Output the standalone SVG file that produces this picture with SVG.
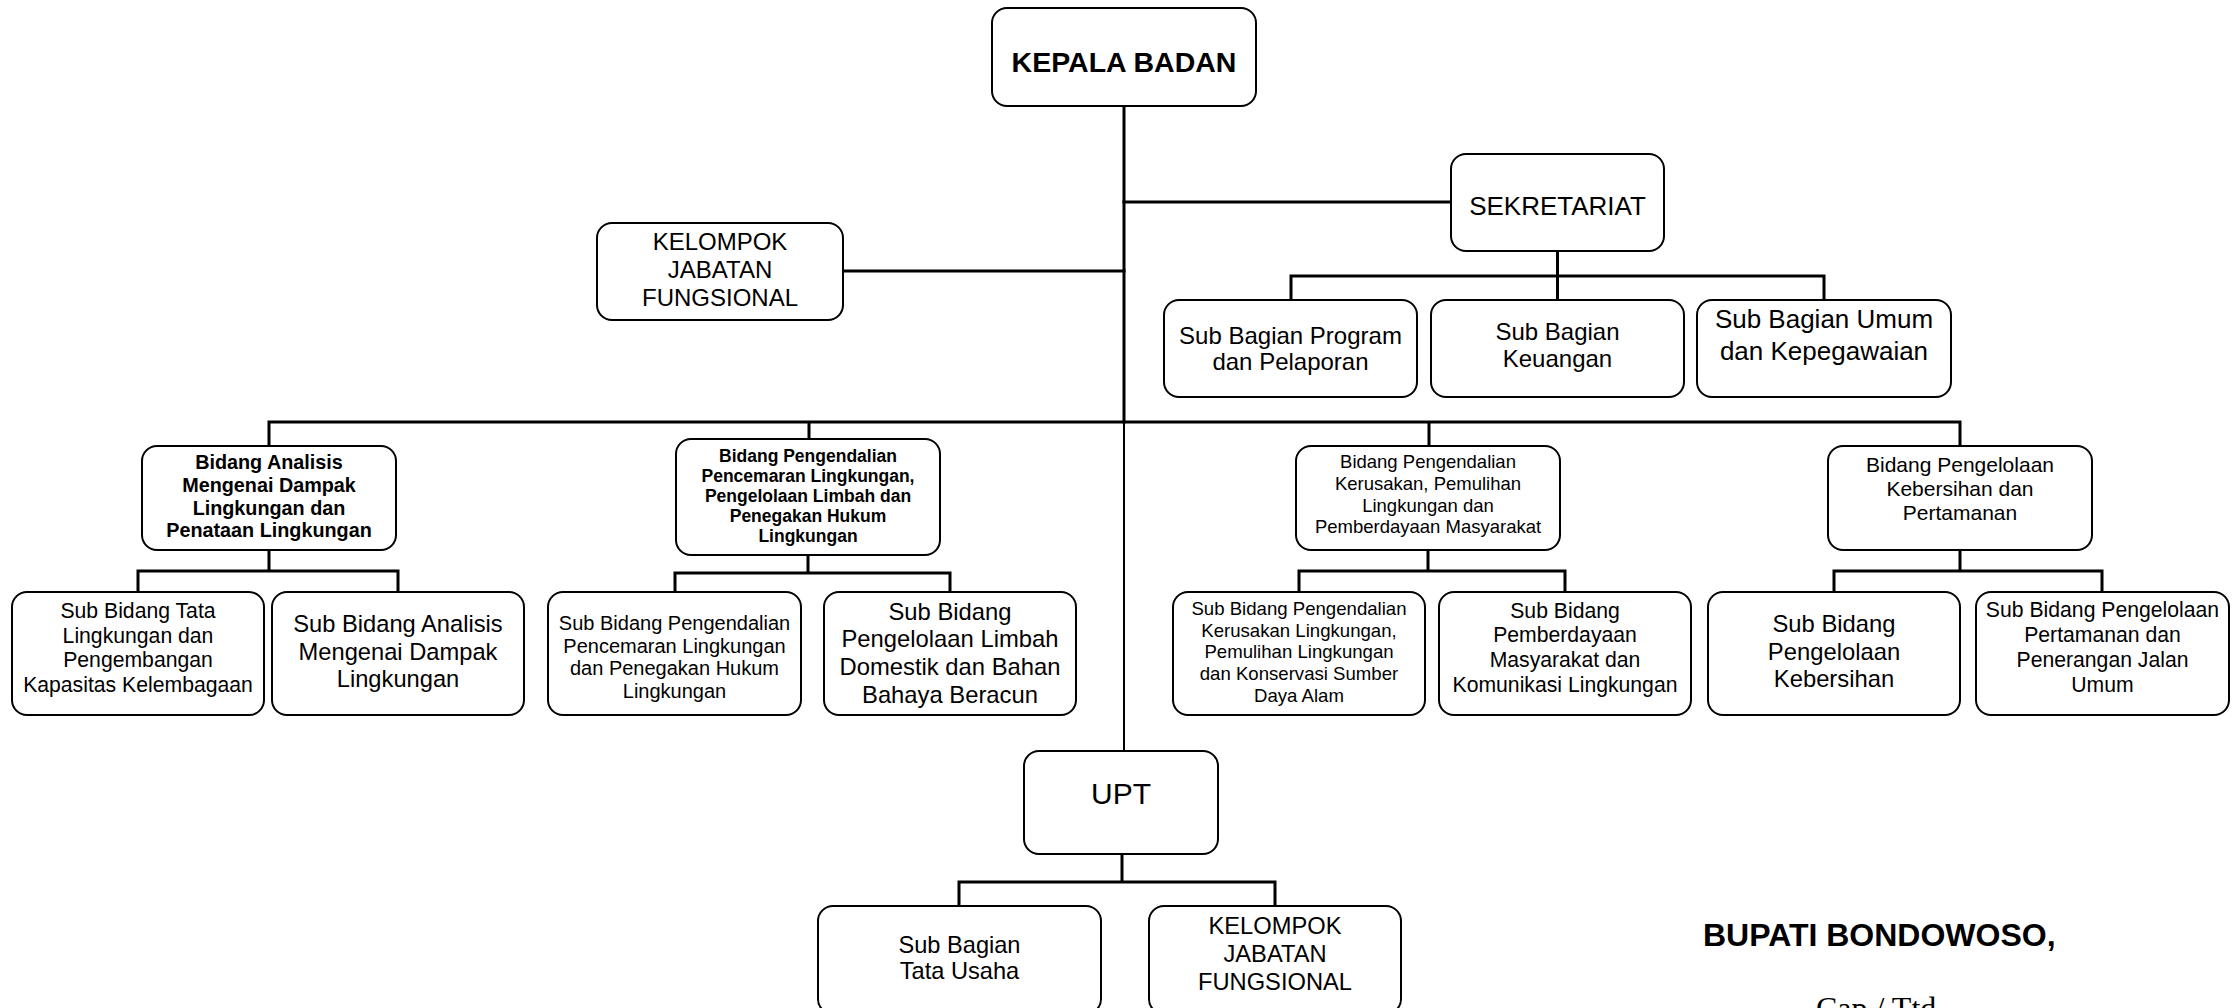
<svg xmlns="http://www.w3.org/2000/svg" width="2239" height="1008" viewBox="0 0 2239 1008">
  <style>
    .box { fill: #ffffff; stroke: #000000; stroke-width: 2; }
    .ln { fill: none; stroke: #000000; stroke-width: 3; stroke-linecap: square; }
    .ln2 { fill: none; stroke: #000000; stroke-width: 2; }
    text { font-family: "Liberation Sans", Arial, sans-serif; fill: #000000; text-anchor: middle; }
    .b { font-weight: bold; }
    .serif { font-family: "Liberation Serif", "Times New Roman", serif; text-anchor: start; }
  </style>
  <rect width="2239" height="1008" fill="#ffffff"/>

  <!-- connectors -->
  <g id="connectors">
    <!-- main trunk -->
    <path class="ln" d="M1124 106 V422"/>
    <path class="ln2" d="M1124 422 V751"/>
    <path class="ln" d="M1124 202 H1451"/>
    <path class="ln" d="M843 271 H1124"/>
    <!-- secretariat branch -->
    <path class="ln" d="M1557.5 251 V300 M1291 300 V276 H1824 V300"/>
    <!-- bidang row -->
    <path class="ln" d="M269 446 V422 H1960 V446 M809 422 V439 M1429 422 V446"/>
    <!-- sub bidang branches -->
    <path class="ln" d="M269 550 V571 M138 592 V571 H398 V592"/>
    <path class="ln" d="M808 555 V573 M675 592 V573 H950 V592"/>
    <path class="ln" d="M1428 550 V571 M1299 592 V571 H1565 V592"/>
    <path class="ln" d="M1960 550 V571 M1834 592 V571 H2102 V592"/>
    <!-- UPT branch -->
    <path class="ln" d="M1122 854 V882 M959 906 V882 H1275 V906"/>
  </g>

  <g id="kepala-badan">
    <rect class="box" x="992" y="8" width="264" height="98" rx="15"/>
    <text class="b" x="1124" y="72" font-size="28.5">KEPALA BADAN</text>
  </g>

  <g id="kelompok-jabatan-fungsional">
    <rect class="box" x="597" y="223" width="246" height="97" rx="15"/>
    <text x="720" font-size="24"><tspan x="720" y="250">KELOMPOK</tspan><tspan x="720" y="278">JABATAN</tspan><tspan x="720" y="306">FUNGSIONAL</tspan></text>
  </g>

  <g id="sekretariat">
    <rect class="box" x="1451" y="154" width="213" height="97" rx="15"/>
    <text x="1557.5" y="215" font-size="26">SEKRETARIAT</text>
  </g>

  <g id="subbag-program">
    <rect class="box" x="1164" y="300" width="253" height="97" rx="15"/>
    <text font-size="24"><tspan x="1290.5" y="344">Sub Bagian Program</tspan><tspan x="1290.5" y="370">dan Pelaporan</tspan></text>
  </g>

  <g id="subbag-keuangan">
    <rect class="box" x="1431" y="300" width="253" height="97" rx="15"/>
    <text font-size="24"><tspan x="1557.5" y="340">Sub Bagian</tspan><tspan x="1557.5" y="367">Keuangan</tspan></text>
  </g>

  <g id="subbag-umum">
    <rect class="box" x="1697" y="300" width="254" height="97" rx="15"/>
    <text font-size="26"><tspan x="1824" y="328">Sub Bagian Umum</tspan><tspan x="1824" y="360">dan Kepegawaian</tspan></text>
  </g>

  <g id="bidang-amdal">
    <rect class="box" x="142" y="446" width="254" height="104" rx="15"/>
    <text class="b" font-size="19.8"><tspan x="269" y="469">Bidang Analisis</tspan><tspan x="269" y="492">Mengenai Dampak</tspan><tspan x="269" y="515">Lingkungan dan</tspan><tspan x="269" y="537">Penataan Lingkungan</tspan></text>
  </g>

  <g id="subbid-tata-lingkungan">
    <rect class="box" x="12" y="592" width="252" height="123" rx="15"/>
    <text font-size="21.2"><tspan x="138" y="618">Sub Bidang Tata</tspan><tspan x="138" y="643">Lingkungan dan</tspan><tspan x="138" y="667">Pengembangan</tspan><tspan x="138" y="692">Kapasitas Kelembagaan</tspan></text>
  </g>

  <g id="subbid-amdal">
    <rect class="box" x="272" y="592" width="252" height="123" rx="15"/>
    <text font-size="23.7"><tspan x="398" y="632">Sub Bidang Analisis</tspan><tspan x="398" y="660">Mengenai Dampak</tspan><tspan x="398" y="687">Lingkungan</tspan></text>
  </g>

  <g id="bidang-pencemaran">
    <rect class="box" x="676" y="439" width="264" height="116" rx="15"/>
    <text class="b" font-size="17.5"><tspan x="808" y="462">Bidang Pengendalian</tspan><tspan x="808" y="482">Pencemaran Lingkungan,</tspan><tspan x="808" y="502">Pengelolaan Limbah dan</tspan><tspan x="808" y="522">Penegakan Hukum</tspan><tspan x="808" y="542">Lingkungan</tspan></text>
  </g>

  <g id="subbid-pencemaran">
    <rect class="box" x="548" y="592" width="253" height="123" rx="15"/>
    <text font-size="20"><tspan x="674.5" y="630">Sub Bidang Pengendalian</tspan><tspan x="674.5" y="653">Pencemaran Lingkungan</tspan><tspan x="674.5" y="675">dan Penegakan Hukum</tspan><tspan x="674.5" y="698">Lingkungan</tspan></text>
  </g>

  <g id="subbid-limbah">
    <rect class="box" x="824" y="592" width="252" height="123" rx="15"/>
    <text font-size="23.8"><tspan x="950" y="620">Sub Bidang</tspan><tspan x="950" y="647">Pengelolaan Limbah</tspan><tspan x="950" y="675">Domestik dan Bahan</tspan><tspan x="950" y="703">Bahaya Beracun</tspan></text>
  </g>

  <g id="bidang-kerusakan">
    <rect class="box" x="1296" y="446" width="264" height="104" rx="15"/>
    <text font-size="18.5"><tspan x="1428" y="468">Bidang Pengendalian</tspan><tspan x="1428" y="490">Kerusakan, Pemulihan</tspan><tspan x="1428" y="512">Lingkungan dan</tspan><tspan x="1428" y="533">Pemberdayaan Masyarakat</tspan></text>
  </g>

  <g id="subbid-kerusakan">
    <rect class="box" x="1173" y="592" width="252" height="123" rx="15"/>
    <text font-size="18.6"><tspan x="1299" y="615">Sub Bidang Pengendalian</tspan><tspan x="1299" y="637">Kerusakan Lingkungan,</tspan><tspan x="1299" y="658">Pemulihan Lingkungan</tspan><tspan x="1299" y="680">dan Konservasi Sumber</tspan><tspan x="1299" y="702">Daya Alam</tspan></text>
  </g>

  <g id="subbid-pemberdayaan">
    <rect class="box" x="1439" y="592" width="252" height="123" rx="15"/>
    <text font-size="21.2"><tspan x="1565" y="618">Sub Bidang</tspan><tspan x="1565" y="642">Pemberdayaan</tspan><tspan x="1565" y="667">Masyarakat dan</tspan><tspan x="1565" y="692">Komunikasi Lingkungan</tspan></text>
  </g>

  <g id="bidang-kebersihan">
    <rect class="box" x="1828" y="446" width="264" height="104" rx="15"/>
    <text font-size="21"><tspan x="1960" y="472">Bidang Pengelolaan</tspan><tspan x="1960" y="496">Kebersihan dan</tspan><tspan x="1960" y="520">Pertamanan</tspan></text>
  </g>

  <g id="subbid-kebersihan">
    <rect class="box" x="1708" y="592" width="252" height="123" rx="15"/>
    <text font-size="23.8"><tspan x="1834" y="632">Sub Bidang</tspan><tspan x="1834" y="660">Pengelolaan</tspan><tspan x="1834" y="687">Kebersihan</tspan></text>
  </g>

  <g id="subbid-pertamanan">
    <rect class="box" x="1976" y="592" width="253" height="123" rx="15"/>
    <text font-size="21.2"><tspan x="2102.5" y="617">Sub Bidang Pengelolaan</tspan><tspan x="2102.5" y="642">Pertamanan dan</tspan><tspan x="2102.5" y="667">Penerangan Jalan</tspan><tspan x="2102.5" y="692">Umum</tspan></text>
  </g>

  <g id="upt">
    <rect class="box" x="1024" y="751" width="194" height="103" rx="15"/>
    <text x="1121" y="804" font-size="30">UPT</text>
  </g>

  <g id="upt-subbag-tata-usaha">
    <rect class="box" x="818" y="906" width="283" height="108" rx="15"/>
    <text font-size="23.6"><tspan x="959.5" y="953">Sub Bagian</tspan><tspan x="959.5" y="979">Tata Usaha</tspan></text>
  </g>

  <g id="upt-kelompok-jabatan-fungsional">
    <rect class="box" x="1149" y="906" width="252" height="108" rx="15"/>
    <text font-size="23.7"><tspan x="1275" y="934">KELOMPOK</tspan><tspan x="1275" y="962">JABATAN</tspan><tspan x="1275" y="990">FUNGSIONAL</tspan></text>
  </g>

  <!-- signature block -->
  <g id="signature">
    <text class="b" x="1703" y="946" font-size="32" style="text-anchor:start">BUPATI BONDOWOSO,</text>
    <text class="serif" x="1816" y="1019" font-size="32">Cap / Ttd</text>
  </g>
</svg>
